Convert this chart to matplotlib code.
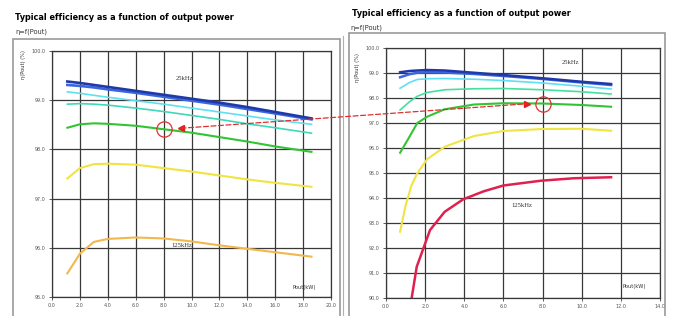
import matplotlib
matplotlib.use("Agg")
import matplotlib.pyplot as plt
from matplotlib.patches import Rectangle, ConnectionPatch

# 左グラフ (0-20kW)
lx = [1.1, 2.0, 3.0, 4.0, 6.0, 8.0, 10.0, 12.0, 14.0, 16.0, 18.6]
l_darkblue = [99.38, 99.35, 99.31, 99.27, 99.19, 99.11, 99.03, 98.95, 98.86, 98.76, 98.63]
l_blue = [99.31, 99.29, 99.26, 99.22, 99.15, 99.07, 98.99, 98.91, 98.82, 98.73, 98.61]
l_cyan = [99.17, 99.14, 99.10, 99.06, 98.99, 98.92, 98.84, 98.76, 98.68, 98.60, 98.51]
l_aqua = [98.92, 98.93, 98.92, 98.90, 98.84, 98.77, 98.69, 98.61, 98.52, 98.44, 98.33]
l_green = [98.44, 98.51, 98.53, 98.52, 98.48, 98.41, 98.34, 98.25, 98.16, 98.06, 97.95]
l_yellow = [97.41, 97.62, 97.70, 97.71, 97.69, 97.62, 97.55, 97.47, 97.39, 97.32, 97.24]
l_orange = [95.48, 95.88, 96.12, 96.18, 96.21, 96.19, 96.13, 96.05, 95.98, 95.91, 95.82]

# 右グラフ (0-14kW)
rx = [0.72, 1.2, 1.6, 2.1, 3.0, 4.5, 6.0, 8.0, 10.0, 11.5]
r_darkblue = [99.03, 99.08, 99.10, 99.12, 99.10, 99.01, 98.92, 98.79, 98.65, 98.56]
r_blue = [98.83, 98.95, 99.01, 99.03, 99.02, 98.96, 98.88, 98.76, 98.62, 98.52]
r_cyan = [98.39, 98.62, 98.74, 98.77, 98.78, 98.75, 98.70, 98.60, 98.47, 98.36]
r_aqua = [97.52, 97.85, 98.07, 98.22, 98.33, 98.37, 98.38, 98.33, 98.25, 98.16]
r_green = [95.81, 96.45, 97.00, 97.25, 97.55, 97.74, 97.79, 97.78, 97.72, 97.65]
ry_x = [0.72, 1.0, 1.3, 1.6, 2.1, 3.0, 4.5, 6.0, 8.0, 10.0, 11.5]
r_yellow = [92.65, 93.70, 94.50, 94.99, 95.55, 96.05, 96.48, 96.68, 96.76, 96.77, 96.69]
rr_x = [1.31, 1.57, 2.25, 3.0, 3.95, 5.0, 6.0, 7.9, 9.6, 11.5]
r_red = [89.99, 91.25, 92.72, 93.45, 93.95, 94.27, 94.50, 94.69, 94.79, 94.83]

# 丸印 (8kW)
mark_x = 8.0
l_mark_y = 98.41
r_mark_y = 97.77

title = "Typical efficiency as a function of output power"
subtitle = "η=f(Pout)"

W, H = 676, 316
fig = plt.figure(figsize=(W / 100, H / 100), dpi=100)


def fx(px):
    return px / W


def fy(py):
    return 1 - py / H


# 外枠
fig.add_artist(Rectangle((fx(13), fy(318)), fx(340) - fx(13), fy(39) - fy(318),
                         fill=False, ec="#9a9a9a", lw=1.2, transform=fig.transFigure))
fig.add_artist(Rectangle((fx(349), fy(318)), fx(665) - fx(349), fy(33) - fy(318),
                         fill=False, ec="#9a9a9a", lw=1.2, transform=fig.transFigure))
fig.add_artist(plt.Line2D([fx(343), fx(343)], [fy(318), fy(36)], color="#b0b0b0", lw=0.8,
                          transform=fig.transFigure))

fig.text(fx(15), fy(17), title, fontsize=5.9, fontweight="bold", va="center")
fig.text(fx(15), fy(32), subtitle, fontsize=4.8, va="center", color="#333333")
fig.text(fx(352), fy(14), title, fontsize=5.9, fontweight="bold", va="center")
fig.text(fx(350), fy(28), subtitle, fontsize=4.8, va="center", color="#333333")

ax1 = fig.add_axes([fx(52), fy(297), fx(331) - fx(52), fy(51) - fy(297)])
ax2 = fig.add_axes([fx(386), fy(298), fx(660) - fx(386), fy(48) - fy(298)])

for ax in (ax1, ax2):
    ax.grid(True, color="#383838", lw=0.9)
    ax.set_axisbelow(True)
    for s in ax.spines.values():
        s.set_color("#383838")
        s.set_linewidth(0.9)
    ax.tick_params(labelsize=3.5, colors="#404040", length=2.5, width=0.6, pad=2,
                   labelcolor="#555555")

# 左
ax1.plot(lx, l_orange, color="#f2b84b", lw=1.5)
ax1.plot(lx, l_yellow, color="#f0e442", lw=1.5)
ax1.plot(lx, l_green, color="#33c433", lw=1.5)
ax1.plot(lx, l_aqua, color="#3fd8b8", lw=1.2)
ax1.plot(lx, l_cyan, color="#5fe0f0", lw=1.2)
ax1.plot(lx, l_blue, color="#3a66e0", lw=1.9)
ax1.plot(lx, l_darkblue, color="#1f3aa8", lw=1.9)
ax1.set_xlim(0, 20)
ax1.set_ylim(95, 100)
ax1.set_xticks(range(0, 21, 2))
ax1.set_xticklabels([f"{v:.1f}" for v in range(0, 21, 2)])
ax1.set_yticks(range(95, 101))
ax1.set_yticklabels([f"{v:.1f}" for v in range(95, 101)])
ax1.text(9.5, 99.45, "25kHz", fontsize=4.8, family="Liberation Serif", ha="center", va="center", color="#333333")
ax1.text(9.3, 96.04, "125kHz", fontsize=4.8, family="Liberation Serif", ha="center", va="center", color="#333333")
ax1.text(18.1, 95.2, "Pout(kW)", fontsize=3.7, ha="center", va="center", color="#333333")
ax1.plot([mark_x], [l_mark_y], marker="o", ms=11, mfc="none", mec="#e03030", mew=0.9)
fig.text(fx(24), fy(65), "η(Pout) (%)", fontsize=3.7, rotation=90, ha="center", va="center", color="#333333")

# 右
ax2.plot(rr_x, r_red, color="#e0204f", lw=1.8)
ax2.plot(ry_x, r_yellow, color="#f0e442", lw=1.5)
ax2.plot(rx, r_green, color="#33c433", lw=1.5)
ax2.plot(rx, r_aqua, color="#45e0a0", lw=1.2)
ax2.plot(rx, r_cyan, color="#5fe0f0", lw=1.2)
ax2.plot(rx, r_blue, color="#3a66e0", lw=1.8)
ax2.plot(rx, r_darkblue, color="#1f3aa8", lw=1.8)
ax2.set_xlim(0, 14)
ax2.set_ylim(90, 100)
ax2.set_xticks(range(0, 15, 2))
ax2.set_xticklabels([f"{v:.1f}" for v in range(0, 15, 2)])
ax2.set_yticks(range(90, 101))
ax2.set_yticklabels([f"{v:.1f}" for v in range(90, 101)])
ax2.text(9.4, 99.44, "25kHz", fontsize=4.8, family="Liberation Serif", ha="center", va="center", color="#333333")
ax2.text(6.95, 93.7, "125kHz", fontsize=4.8, family="Liberation Serif", ha="center", va="center", color="#333333")
ax2.text(12.7, 90.45, "Pout(kW)", fontsize=3.7, ha="center", va="center", color="#333333")
ax2.plot([mark_x], [r_mark_y], marker="o", ms=11, mfc="none", mec="#e03030", mew=0.9)
fig.text(fx(357), fy(68), "η(Pout) (%)", fontsize=3.7, rotation=90, ha="center", va="center", color="#333333")

# 赤い破線矢印 (左右の丸をつなぐ)
la = (9.25, 98.43)
ra = (7.2, 97.77)
con = ConnectionPatch(xyA=la, coordsA=ax1.transData, xyB=ra, coordsB=ax2.transData,
                      color="#e03030", lw=0.9, ls=(0, (4, 2)))
fig.add_artist(con)
ax1.plot([la[0]], [la[1]], marker="<", ms=4.5, color="#e02020", clip_on=False)
ax2.plot([ra[0]], [ra[1]], marker=">", ms=4.5, color="#e02020", clip_on=False)

fig.savefig("out.png", dpi=100)
